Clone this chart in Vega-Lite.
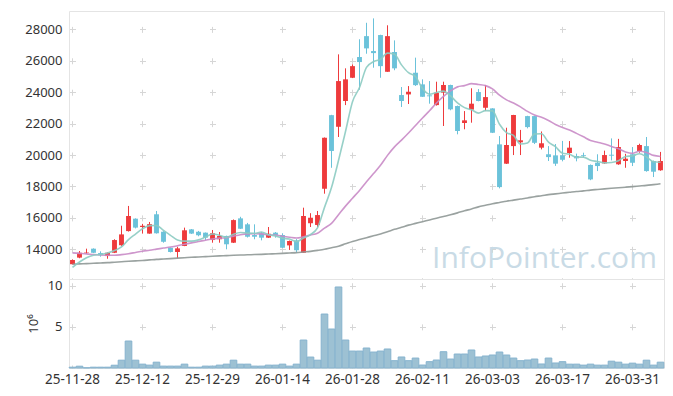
{
  "$schema": "https://vega.github.io/schema/vega-lite/v6.json",
  "background": "white",
  "padding": {"left": 24, "top": 10, "right": 9, "bottom": 5},
  "bounds": "flush",
  "spacing": 0,
  "config": {
    "font": "Noto Sans",
    "view": {"stroke": "#e4e4e4"},
    "axis": {"labelFont": "Noto Sans", "labelFontSize": 13, "labelColor": "#333333", "titleFont": "Noto Sans", "titleColor": "#333333", "titleFontWeight": "normal", "titleFontSize": 13, "labelOverlap": false, "labelSeparation": 0},
    "axisY": {"labelOverlap": false},
    "axisQuantitative": {"labelOverlap": false}
  },
  "resolve": {"scale": {"x": "independent"}},
  "datasets": {
    "k": [
      {"d":"25-11-28","o":13050,"h":13360,"l":13040,"c":13320,"v":0.10,"m5":12850,"m20":13770,"m120":13050},
      {"d":"25-12-01","o":13470,"h":13890,"l":13430,"c":13780,"v":0.22,"m5":13190,"m20":13740,"m120":13070},
      {"d":"25-12-02","o":13800,"h":14040,"l":13700,"c":13830,"v":0.03,"m5":13460,"m20":13710,"m120":13090},
      {"d":"25-12-03","o":14040,"h":14060,"l":13760,"c":13780,"v":0.10,"m5":13620,"m20":13670,"m120":13110},
      {"d":"25-12-04","o":13760,"h":13870,"l":13530,"c":13620,"v":0.10,"m5":13670,"m20":13640,"m120":13130},
      {"d":"25-12-05","o":13570,"h":13800,"l":13400,"c":13780,"v":0.10,"m5":13760,"m20":13620,"m120":13150},
      {"d":"25-12-08","o":13780,"h":14640,"l":13760,"c":14590,"v":0.34,"m5":13920,"m20":13620,"m120":13180},
      {"d":"25-12-09","o":14260,"h":15500,"l":14220,"c":14950,"v":0.95,"m5":14150,"m20":13660,"m120":13210},
      {"d":"25-12-10","o":15160,"h":16760,"l":15130,"c":16120,"v":3.28,"m5":14620,"m20":13720,"m120":13240},
      {"d":"25-12-11","o":15950,"h":15970,"l":15330,"c":15380,"v":0.95,"m5":14970,"m20":13800,"m120":13265},
      {"d":"25-12-12","o":15420,"h":15620,"l":15000,"c":15500,"v":0.47,"m5":15310,"m20":13880,"m120":13290},
      {"d":"25-12-15","o":15000,"h":15740,"l":14990,"c":15600,"v":0.35,"m5":15510,"m20":13940,"m120":13325},
      {"d":"25-12-16","o":16230,"h":16440,"l":15000,"c":15020,"v":0.71,"m5":15520,"m20":14010,"m120":13360},
      {"d":"25-12-17","o":15120,"h":15150,"l":14420,"c":14480,"v":0.23,"m5":15200,"m20":14080,"m120":13385},
      {"d":"25-12-18","o":14100,"h":14120,"l":13800,"c":13830,"v":0.23,"m5":14890,"m20":14150,"m120":13410},
      {"d":"25-12-19","o":13830,"h":14160,"l":13430,"c":14060,"v":0.23,"m5":14600,"m20":14230,"m120":13440},
      {"d":"25-12-22","o":14210,"h":15380,"l":14200,"c":15210,"v":0.47,"m5":14520,"m20":14320,"m120":13465},
      {"d":"25-12-23","o":15270,"h":15290,"l":14980,"c":15000,"v":0.10,"m5":14520,"m20":14410,"m120":13490},
      {"d":"25-12-24","o":15120,"h":15170,"l":14830,"c":14890,"v":0.10,"m5":14600,"m20":14500,"m120":13510},
      {"d":"25-12-26","o":15060,"h":15070,"l":14590,"c":14740,"v":0.23,"m5":14780,"m20":14580,"m120":13535},
      {"d":"25-12-29","o":14590,"h":15230,"l":14420,"c":15020,"v":0.23,"m5":14970,"m20":14660,"m120":13560},
      {"d":"25-12-30","o":14640,"h":15100,"l":14420,"c":14850,"v":0.35,"m5":14900,"m20":14710,"m120":13580},
      {"d":"26-01-02","o":14850,"h":14870,"l":14000,"c":14320,"v":0.47,"m5":14760,"m20":14740,"m120":13600},
      {"d":"26-01-05","o":14420,"h":15900,"l":14400,"c":15860,"v":0.95,"m5":14960,"m20":14840,"m120":13620},
      {"d":"26-01-06","o":15970,"h":16070,"l":15290,"c":15310,"v":0.47,"m5":15070,"m20":14930,"m120":13635},
      {"d":"26-01-07","o":15590,"h":15680,"l":14750,"c":14800,"v":0.47,"m5":15030,"m20":14980,"m120":13650},
      {"d":"26-01-08","o":14910,"h":15590,"l":14640,"c":14800,"v":0.23,"m5":15020,"m20":14990,"m120":13665},
      {"d":"26-01-09","o":15020,"h":15100,"l":14570,"c":14740,"v":0.23,"m5":15100,"m20":14980,"m120":13680},
      {"d":"26-01-12","o":14740,"h":15420,"l":14720,"c":14990,"v":0.35,"m5":14930,"m20":14920,"m120":13700},
      {"d":"26-01-13","o":15060,"h":15100,"l":14740,"c":14910,"v":0.35,"m5":14850,"m20":14900,"m120":13720},
      {"d":"26-01-14","o":14910,"h":15020,"l":14080,"c":14100,"v":0.47,"m5":14710,"m20":14830,"m120":13740},
      {"d":"26-01-15","o":14250,"h":14560,"l":13960,"c":14530,"v":0.23,"m5":14650,"m20":14770,"m120":13765},
      {"d":"26-01-16","o":14570,"h":14650,"l":13780,"c":13940,"v":0.47,"m5":14490,"m20":14720,"m120":13790},
      {"d":"26-01-19","o":13780,"h":16650,"l":13780,"c":16120,"v":3.40,"m5":14720,"m20":14800,"m120":13830},
      {"d":"26-01-20","o":15660,"h":16300,"l":15420,"c":16010,"v":1.33,"m5":14940,"m20":14910,"m120":13870},
      {"d":"26-01-21","o":15550,"h":16440,"l":15400,"c":16180,"v":0.95,"m5":15360,"m20":15020,"m120":13930},
      {"d":"26-01-22","o":17860,"h":21120,"l":17540,"c":21100,"v":6.56,"m5":16670,"m20":15350,"m120":14000},
      {"d":"26-01-23","o":22540,"h":22560,"l":19190,"c":20260,"v":4.74,"m5":17930,"m20":15650,"m120":14100},
      {"d":"26-01-26","o":21800,"h":26410,"l":21150,"c":24710,"v":9.85,"m5":19650,"m20":16200,"m120":14200},
      {"d":"26-01-27","o":23440,"h":25520,"l":23180,"c":24820,"v":3.40,"m5":21500,"m20":16750,"m120":14350},
      {"d":"26-01-28","o":24920,"h":25770,"l":24900,"c":25660,"v":2.06,"m5":23400,"m20":17250,"m120":14500},
      {"d":"26-01-29","o":26240,"h":27370,"l":24160,"c":25920,"v":2.06,"m5":24300,"m20":17750,"m120":14620},
      {"d":"26-01-30","o":27570,"h":28420,"l":26450,"c":26790,"v":2.43,"m5":25580,"m20":18300,"m120":14740},
      {"d":"26-02-02","o":26620,"h":28700,"l":25560,"c":26490,"v":1.94,"m5":25940,"m20":18820,"m120":14860},
      {"d":"26-02-03","o":27640,"h":27660,"l":24920,"c":25660,"v":2.06,"m5":26100,"m20":19350,"m120":14980},
      {"d":"26-02-04","o":25300,"h":28260,"l":25300,"c":27570,"v":2.31,"m5":26490,"m20":19980,"m120":15120},
      {"d":"26-02-05","o":26560,"h":27300,"l":25400,"c":25520,"v":0.89,"m5":26410,"m20":20520,"m120":15270},
      {"d":"26-02-06","o":23820,"h":24330,"l":23060,"c":23440,"v":1.34,"m5":25740,"m20":20950,"m120":15400},
      {"d":"26-02-09","o":23860,"h":24390,"l":23250,"c":24030,"v":0.89,"m5":25240,"m20":21400,"m120":15540},
      {"d":"26-02-10","o":25240,"h":26200,"l":24400,"c":24450,"v":1.21,"m5":25000,"m20":21880,"m120":15650},
      {"d":"26-02-11","o":24500,"h":24820,"l":23700,"c":23710,"v":0.36,"m5":24230,"m20":22360,"m120":15760},
      {"d":"26-02-12","o":23800,"h":24710,"l":23270,"c":23740,"v":0.77,"m5":23870,"m20":22820,"m120":15870},
      {"d":"26-02-13","o":23180,"h":24670,"l":23150,"c":23970,"v":0.97,"m5":23980,"m20":23310,"m120":15980},
      {"d":"26-02-19","o":23970,"h":24670,"l":21850,"c":24460,"v":1.98,"m5":24070,"m20":23730,"m120":16090},
      {"d":"26-02-20","o":24460,"h":24480,"l":22850,"c":22910,"v":1.09,"m5":23760,"m20":24080,"m120":16200},
      {"d":"26-02-23","o":23120,"h":23150,"l":21320,"c":21530,"v":1.70,"m5":23320,"m20":24340,"m120":16320},
      {"d":"26-02-24","o":22040,"h":22800,"l":21640,"c":22210,"v":1.70,"m5":23020,"m20":24420,"m120":16450},
      {"d":"26-02-25","o":22890,"h":24250,"l":22060,"c":23270,"v":2.19,"m5":22880,"m20":24550,"m120":16570},
      {"d":"26-02-26","o":24010,"h":24200,"l":23420,"c":23440,"v":1.34,"m5":22670,"m20":24490,"m120":16700},
      {"d":"26-02-27","o":23010,"h":24460,"l":22800,"c":23690,"v":1.46,"m5":22830,"m20":24420,"m120":16800},
      {"d":"26-03-03","o":22970,"h":22980,"l":21400,"c":21420,"v":1.58,"m5":22810,"m20":24210,"m120":16900},
      {"d":"26-03-04","o":20680,"h":21210,"l":17880,"c":17960,"v":1.94,"m5":21960,"m20":23810,"m120":16980},
      {"d":"26-03-05","o":19450,"h":21740,"l":19430,"c":20640,"v":1.58,"m5":21430,"m20":23510,"m120":17060},
      {"d":"26-03-06","o":20570,"h":22560,"l":20000,"c":22550,"v":1.21,"m5":21250,"m20":23310,"m120":17130},
      {"d":"26-03-09","o":20810,"h":21600,"l":20000,"c":20940,"v":0.89,"m5":20700,"m20":23070,"m120":17200},
      {"d":"26-03-10","o":22480,"h":22500,"l":21700,"c":21780,"v":0.97,"m5":20770,"m20":22780,"m120":17270},
      {"d":"26-03-11","o":22480,"h":22500,"l":20700,"c":20780,"v":1.09,"m5":21340,"m20":22550,"m120":17350},
      {"d":"26-03-12","o":20470,"h":21500,"l":20360,"c":20750,"v":0.49,"m5":21360,"m20":22410,"m120":17410},
      {"d":"26-03-13","o":20050,"h":20570,"l":19620,"c":19870,"v":1.21,"m5":20820,"m20":22200,"m120":17480},
      {"d":"26-03-16","o":19980,"h":20700,"l":19310,"c":19450,"v":0.61,"m5":20530,"m20":21950,"m120":17530},
      {"d":"26-03-17","o":19980,"h":20900,"l":19600,"c":19700,"v":0.77,"m5":20110,"m20":21750,"m120":17580},
      {"d":"26-03-18","o":20130,"h":20890,"l":19830,"c":20470,"v":0.47,"m5":20050,"m20":21590,"m120":17630},
      {"d":"26-03-19","o":19940,"h":20090,"l":19600,"c":19790,"v":0.47,"m5":19860,"m20":21380,"m120":17680},
      {"d":"26-03-20","o":19990,"h":20150,"l":19830,"c":19940,"v":0.35,"m5":19870,"m20":21160,"m120":17720},
      {"d":"26-03-23","o":19370,"h":19400,"l":18400,"c":18450,"v":0.47,"m5":19670,"m20":20930,"m120":17770},
      {"d":"26-03-24","o":19510,"h":20050,"l":18980,"c":19300,"v":0.35,"m5":19590,"m20":20820,"m120":17810},
      {"d":"26-03-25","o":19470,"h":20280,"l":19440,"c":20000,"v":0.35,"m5":19500,"m20":20710,"m120":17850},
      {"d":"26-03-26","o":20020,"h":21060,"l":19660,"c":19960,"v":0.83,"m5":19530,"m20":20540,"m120":17885},
      {"d":"26-03-27","o":19410,"h":21030,"l":19380,"c":20510,"v":0.71,"m5":19640,"m20":20400,"m120":17920},
      {"d":"26-03-30","o":19620,"h":20080,"l":19190,"c":19770,"v":0.47,"m5":19910,"m20":20200,"m120":17955},
      {"d":"26-03-31","o":20050,"h":20510,"l":19300,"c":19510,"v":0.59,"m5":19950,"m20":20110,"m120":17990},
      {"d":"26-04-01","o":20260,"h":20720,"l":20150,"c":20640,"v":0.47,"m5":20080,"m20":20240,"m120":18030},
      {"d":"26-04-02","o":20570,"h":21150,"l":18940,"c":18980,"v":0.95,"m5":19880,"m20":20160,"m120":18070},
      {"d":"26-04-03","o":19620,"h":19650,"l":18600,"c":18940,"v":0.35,"m5":19570,"m20":19980,"m120":18120},
      {"d":"26-04-06","o":19030,"h":20200,"l":19000,"c":19620,"v":0.71,"m5":19540,"m20":19910,"m120":18170}
    ]
  },
  "vconcat": [
    {
      "width": 595,
      "height": 268,
      "data": {"name": "k"},
      "encoding": {
        "x": {
          "field": "d", "type": "ordinal", "sort": "ascending",
          "scale": {"type": "band", "paddingInner": 0.3, "paddingOuter": 0.15},
          "axis": {
            "values": ["25-11-28","25-12-12","25-12-29","26-01-14","26-01-28","26-02-11","26-03-03","26-03-17","26-03-31"],
            "labels": false, "ticks": false, "domain": false, "title": null,
            "grid": true, "gridColor": "#d6d6d6", "gridWidth": 1, "gridDash": [6, 25.418], "gridDashOffset": 16.04
          }
        }
      },
      "layer": [
        {
          "mark": {"type": "rule", "strokeWidth": 1},
          "encoding": {
            "y": {
              "field": "l", "type": "quantitative",
              "scale": {"domain": [12110, 29170], "nice": false, "zero": false},
              "axis": {
                "values": [14000,16000,18000,20000,22000,24000,26000,28000],
                "format": "d", "title": null, "ticks": false, "tickSize": 0, "domain": false, "labelPadding": 7, "labelOverlap": false, "labelSeparation": 0,
                "grid": true, "gridColor": "#d6d6d6", "gridWidth": 1, "gridDash": [6, 64], "gridDashOffset": 69.5
              }
            },
            "y2": {"field": "h"},
            "color": {"condition": {"test": "datum.c >= datum.o", "value": "#ee3a3c"}, "value": "#6bc2da"}
          }
        },
        {
          "mark": {"type": "bar"},
          "encoding": {
            "y": {
              "field": "o", "type": "quantitative",
              "axis": {
                "values": [14000,16000,18000,20000,22000,24000,26000,28000],
                "format": "d", "title": null, "ticks": false, "tickSize": 0, "domain": false, "labelPadding": 7, "labelOverlap": false, "labelSeparation": 0,
                "grid": true, "gridColor": "#d6d6d6", "gridWidth": 1, "gridDash": [6, 64], "gridDashOffset": 69.5
              }
            },
            "y2": {"field": "c"},
            "color": {"condition": {"test": "datum.c >= datum.o", "value": "#ee3a3c"}, "value": "#6bc2da"}
          }
        },
        {
          "mark": {"type": "line", "color": "#8f9896", "strokeWidth": 1.6, "interpolate": "monotone", "opacity": 0.9},
          "encoding": {"y": {"field": "m120", "type": "quantitative", "axis": {
                "values": [14000,16000,18000,20000,22000,24000,26000,28000],
                "format": "d", "title": null, "ticks": false, "tickSize": 0, "domain": false, "labelPadding": 7, "labelOverlap": false, "labelSeparation": 0,
                "grid": true, "gridColor": "#d6d6d6", "gridWidth": 1, "gridDash": [6, 64], "gridDashOffset": 69.5
              }}}
        },
        {
          "mark": {"type": "line", "color": "#c98bc6", "strokeWidth": 1.6, "interpolate": "monotone", "opacity": 0.9},
          "encoding": {"y": {"field": "m20", "type": "quantitative", "axis": {
                "values": [14000,16000,18000,20000,22000,24000,26000,28000],
                "format": "d", "title": null, "ticks": false, "tickSize": 0, "domain": false, "labelPadding": 7, "labelOverlap": false, "labelSeparation": 0,
                "grid": true, "gridColor": "#d6d6d6", "gridWidth": 1, "gridDash": [6, 64], "gridDashOffset": 69.5
              }}}
        },
        {
          "mark": {"type": "line", "color": "#8ccbc2", "strokeWidth": 1.6, "interpolate": "monotone", "opacity": 0.9},
          "encoding": {"y": {"field": "m5", "type": "quantitative", "axis": {
                "values": [14000,16000,18000,20000,22000,24000,26000,28000],
                "format": "d", "title": null, "ticks": false, "tickSize": 0, "domain": false, "labelPadding": 7, "labelOverlap": false, "labelSeparation": 0,
                "grid": true, "gridColor": "#d6d6d6", "gridWidth": 1, "gridDash": [6, 64], "gridDashOffset": 69.5
              }}}
        },
        {
          "mark": {"type": "text", "font": "Open Sans", "fontSize": 30, "color": "#c9dbe6", "align": "center", "baseline": "alphabetic", "dx": 3},
          "data": {"values": [{"t": "InfoPointer.com", "d": "26-03-12", "p": 12810}]},
          "encoding": {
            "text": {"field": "t"},
            "y": {"field": "p", "type": "quantitative", "axis": {
                "values": [14000,16000,18000,20000,22000,24000,26000,28000],
                "format": "d", "title": null, "ticks": false, "tickSize": 0, "domain": false, "labelPadding": 7, "labelOverlap": false, "labelSeparation": 0,
                "grid": true, "gridColor": "#d6d6d6", "gridWidth": 1, "gridDash": [6, 64], "gridDashOffset": 69.5
              }}
          }
        }
      ]
    },
    {
      "width": 595,
      "height": 89,
      "data": {"name": "k"},
      "mark": {"type": "bar", "fill": "#9dc1d3", "stroke": "#86b3ce", "strokeWidth": 1},
      "encoding": {
        "x": {
          "field": "d", "type": "ordinal", "sort": "ascending",
          "scale": {"type": "band", "paddingInner": 0.05, "paddingOuter": 0.025},
          "axis": {
            "values": ["25-11-28","25-12-12","25-12-29","26-01-14","26-01-28","26-02-11","26-03-03","26-03-17","26-03-31"],
            "labelAngle": 0, "labelPadding": 4, "ticks": false, "tickSize": 0, "domain": false, "title": null, "labelFontSize": 13.5,
            "grid": true, "gridColor": "#d6d6d6", "gridWidth": 1, "gridDash": [6, 35.128], "gridDashOffset": 37.39
          }
        },
        "y": {
          "field": "v", "type": "quantitative",
          "scale": {"domain": [0, 10.82], "nice": false},
          "axis": {
            "values": [5, 10], "title": "10⁶", "ticks": false, "tickSize": 0, "domain": false, "labelPadding": 7, "labelOverlap": false,
            "titleX": -36, "titleY": 44.5, "titleAngle": -90, "titleAlign": "center", "titleBaseline": "middle",
            "grid": true, "gridColor": "#d6d6d6", "gridWidth": 1, "gridDash": [6, 64], "gridDashOffset": 69.5
          }
        }
      }
    }
  ]
}
